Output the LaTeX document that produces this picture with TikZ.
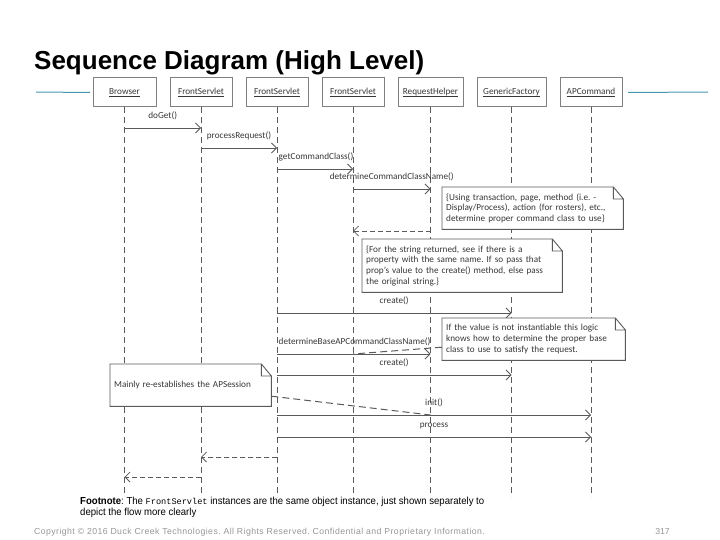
\documentclass[tikz,border=0pt]{standalone}
\usepackage{fontspec}
\setmainfont{Carlito}
\newfontfamily\titlefont{Liberation Sans}
\newfontfamily\footfont{Liberation Sans}[FakeStretch=0.94]
\newfontfamily\copyfont{Liberation Sans}[LetterSpace=5]
\newfontfamily\codefont{Liberation Mono}
\usetikzlibrary{arrows.meta, positioning}

\definecolor{lineteal}{RGB}{70,150,175}
\definecolor{diagline}{RGB}{90,90,90}
\definecolor{diagtext}{RGB}{55,55,55}
\definecolor{copygray}{RGB}{150,150,150}

% object names, underlined at one level
\newcommand{\objname}[1]{\underline{\smash{#1}}}

\begin{document}
\frenchspacing
\begin{tikzpicture}[x=1pt, y=-1pt, node distance=14pt,
  font=\fontsize{9.2}{10.8}\selectfont,
  obj/.style={draw=gray, line width=1pt, outer sep=0pt, text=diagtext, minimum width=62pt, minimum height=29pt,
    inner sep=0pt, text height=7pt, text depth=2pt},
  lifeline/.style={diagline, dash pattern=on 6pt off 4pt, line width=0.9pt},
  msg/.style={diagline, line width=0.8pt, -{Straight Barb[length=5pt, width=10pt]}},
  reply/.style={msg, dash pattern=on 5pt off 3pt},
  note/.style={fill=white, text=diagtext, align=left, inner sep=4pt, anchor=north west, minimum height=42pt},
  noteline/.style={draw=diagline, line width=0.9pt},
  link/.style={diagline, dash pattern=on 7pt off 4pt, line width=1pt},
  lbl/.style={text=diagtext, above=4pt}]
			% page frame
			\useasboundingbox (0,0) rectangle (720,540);

			% Title
			\node (title) [anchor=base west, inner sep=0pt] at (34,70) {\titlefont\bfseries\fontsize{26}{28}\selectfont Sequence Diagram (High Level)};

			% Objects : Every other object is measured based to Browser
			\node (browser) [obj, minimum width=63pt] at (124.5,92.5) {\objname{Browser}};
			\node (fs1) [obj, right = of browser] {\objname{FrontServlet}};
			\node (fs2) [obj, right = of fs1] {\objname{FrontServlet}};
			\node (fs3) [obj, right = of fs2] {\objname{FrontServlet}};
			\node (rh) [obj, minimum width=65pt, right = of fs3] {\objname{RequestHelper}};
			\node (gf) [obj, minimum width=69pt, right = of rh] {\objname{GenericFactory}};
			\node (apc) [obj, right = of gf] {\objname{APCommand}};

			% teal rules beside the objects
			\draw [lineteal, line width=1pt] (36,92) -- ([xshift=-3pt]browser.west);
			\draw [lineteal, line width=1pt] ([xshift=6pt]apc.east) -- (708,92);

			% rows of the messages
			\coordinate (m1) at (0,128);
			\coordinate (m2) at (0,148);
			\coordinate (m3) at (0,169);
			\coordinate (m4) at (0,189);
			\coordinate (m5) at (0,231);
			\coordinate (m6) at (0,313);
			\coordinate (m7) at (0,354);
			\coordinate (m8) at (0,375);
			\coordinate (m9) at (0,415);
			\coordinate (m10) at (0,437);
			\coordinate (m11) at (0,457);
			\coordinate (m12) at (0,477);
			\coordinate (bottom) at (0,497);

			% Lifelines
			\foreach \o in {browser, fs1, fs2, fs3, rh, gf, apc}
				\draw [lifeline] (\o.south) -- (\o |- bottom);

			% Messages
			\draw [msg] (browser |- m1) -- node [lbl] {doGet()} (fs1 |- m1);
			\draw [msg] (fs1 |- m2) -- node [lbl] {processRequest()} (fs2 |- m2);
			\draw [msg] (fs2 |- m3) -- node [lbl, pos=0, above right=4pt and -2pt] {getCommandClass()} (fs3 |- m3);
			\draw [msg] (fs3 |- m4) -- node [lbl] {determineCommandClassName()} (rh |- m4);
			\draw [reply] (rh |- m5) -- (fs3 |- m5);
			\draw [msg] (fs2 |- m6) -- node [lbl] {create()} (gf |- m6);
			\draw [msg] (fs2 |- m7) -- node [lbl, pos=0, above right=4pt and -2pt] {determineBaseAPCommandClassName()} (rh |- m7);
			\draw [msg] (fs2 |- m8) -- node [lbl] {create()} (gf |- m8);
			\draw [msg] (fs2 |- m9) -- node [lbl] {init()} (apc |- m9);
			\draw [msg] (fs2 |- m10) -- node [lbl] {process} (apc |- m10);
			\draw [reply] (fs2 |- m11) -- (fs1 |- m11);
			\draw [reply] (fs1 |- m12) -- (browser |- m12);

			% Notes
			\node (n1) [note, text width=173pt] at (442,187)
				{\{Using transaction, page, method (i.e. -\\Display/Process), action (for rosters), etc.,\\determine proper command class to use\}};
			\node (n2) [note, text width=192pt, minimum height=53pt] at (362,239)
				{\{For the string returned, see if there is a\\property with the same name. If so pass that\\prop's value to the create() method, else pass\\the original string.\}};
			\node (n3) [note, text width=175pt] at (442,318)
				{If the value is not instantiable this logic\\knows how to determine the proper base\\class to use to satisfy the request.};
			\node (n4) [note, text width=153pt] at (110,364)
				{Mainly re-establishes the APSession};
			\foreach \n in {n1, n2, n3, n4}
				\draw [noteline] (\n.north west) -- ([xshift=-10pt]\n.north east) -- ([yshift=-12pt]\n.north east)
					-- (\n.south east) -- (\n.south west) -- cycle
					([xshift=-10pt]\n.north east) |- ([yshift=-12pt]\n.north east);

			% Note links
			\draw [link] ([yshift=-8pt]n3.west) -- (fs3 |- m7);
			\draw [link] ([yshift=-11pt]n4.east) -- (rh |- m9);

			% Footnote and page footer
			\node (foot) [anchor=base west, align=left, inner sep=0pt, font=\footfont\fontsize{10.2}{9}\selectfont] at (80,515)
				{\textbf{Footnote}: The {\codefont\fontsize{8.6}{9}\selectfont FrontServlet} instances are the same object instance, just shown separately to\\depict the flow more clearly};
			\node (copy) [anchor=base west, inner sep=0pt, text=copygray, font=\copyfont\fontsize{8.7}{9}\selectfont] at (34,534)
				{Copyright \textcopyright{} 2016 Duck Creek Technologies. All Rights Reserved. Confidential and Proprietary Information.};
			\node (page) [anchor=base east, inner sep=0pt, text=copygray, font=\titlefont\fontsize{8.7}{9}\selectfont] at (670,534) {317};
\end{tikzpicture}
\end{document}
